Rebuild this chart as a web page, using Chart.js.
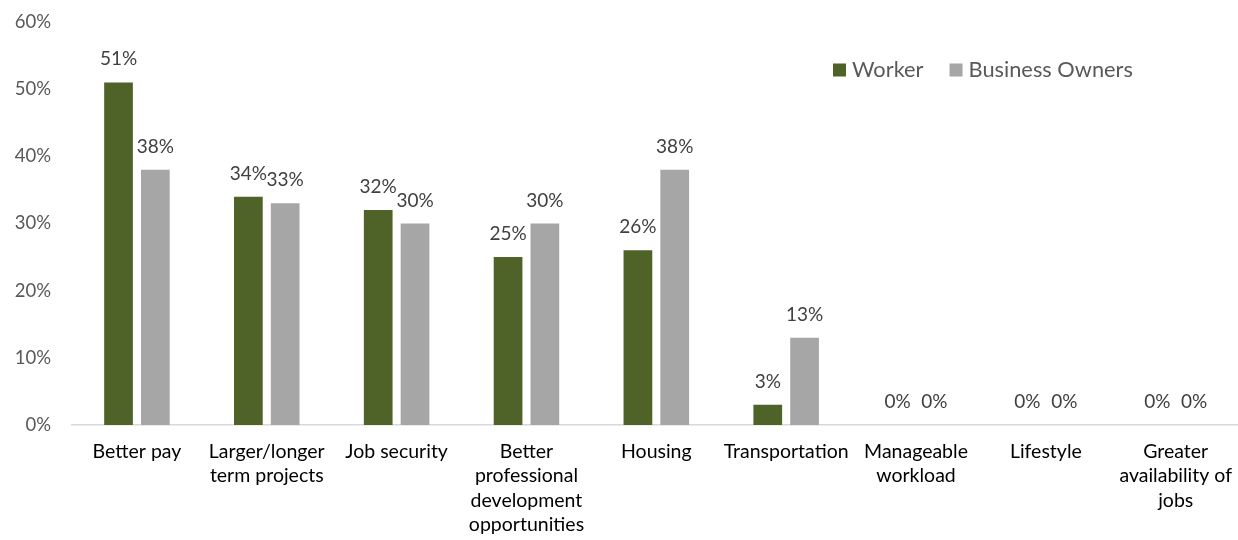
<!DOCTYPE html>
<html>
<head>
<meta charset="utf-8">
<script src="https://cdn.jsdelivr.net/npm/chart.js@4"></script>
<style>
  html, body { margin: 0; padding: 0; background: #fff; overflow: hidden; }
  #wrap { width: 1246px; height: 540px; }
</style>
</head>
<body>
<div id="wrap"><canvas id="c" width="1246" height="540"></canvas></div>
<script>
// Survey categories (multi-line labels for the x axis)
const categories = [
  'Better pay',
  ['Larger/longer', 'term projects'],
  'Job security',
  ['Better', 'professional', 'development', 'opportunities'],
  'Housing',
  'Transportation',
  ['Manageable', 'workload'],
  'Lifestyle',
  ['Greater', 'availability of', 'jobs']
];

// Share of respondents (%) per group
const workerValues   = [51, 34, 32, 25, 26, 3, 0, 0, 0];
const ownerValues    = [38, 33, 30, 30, 38, 13, 0, 0, 0];
const seriesNames    = ['Worker', 'Business Owners'];
const yTicks         = [0, 10, 20, 30, 40, 50, 60];

const FONT = 'Lato, "Open Sans", sans-serif';

// Percent labels above each bar
const valueLabels = {
  id: 'valueLabels',
  afterDatasetsDraw(chart) {
    const ctx = chart.ctx;
    ctx.save();
    ctx.font = '19px ' + FONT;
    ctx.fillStyle = '#404040';
    ctx.textAlign = 'center';
    ctx.textBaseline = 'alphabetic';
    chart.data.datasets.forEach((ds, i) => {
      chart.getDatasetMeta(i).data.forEach((el, j) => {
        ctx.fillText(ds.data[j] + '%', el.x, el.y - 17);
      });
    });
    ctx.restore();
  }
};

// Legend drawn inside the plot, upper right
const insideLegend = {
  id: 'insideLegend',
  afterDraw(chart) {
    const ctx = chart.ctx;
    ctx.save();
    ctx.font = '21.8px ' + FONT;
    ctx.textBaseline = 'middle';
    ctx.textAlign = 'left';
    let x = chart.chartArea.left + 761;
    const y = chart.chartArea.top + 48;
    chart.data.datasets.forEach(ds => {
      ctx.fillStyle = ds.backgroundColor;
      ctx.fillRect(x, y - 6.5, 13, 13);
      ctx.fillStyle = '#595959';
      ctx.fillText(ds.label, x + 19, y);
      x += 19 + ctx.measureText(ds.label).width + 26;
    });
    ctx.restore();
  }
};

new Chart(document.getElementById('c'), {
  type: 'bar',
  data: {
    labels: categories,
    datasets: [
      { label: seriesNames[0], data: workerValues, backgroundColor: '#4F6228',
        categoryPercentage: 0.567, barPercentage: 0.78 },
      { label: seriesNames[1], data: ownerValues, backgroundColor: '#A6A6A6',
        categoryPercentage: 0.567, barPercentage: 0.78 }
    ]
  },
  options: {
    responsive: false,
    animation: false,
    devicePixelRatio: 1,
    layout: { padding: { top: 22, left: 0, right: 0, bottom: 0 } },
    plugins: {
      legend: { display: false },
      tooltip: { enabled: false }
    },
    scales: {
      x: {
        grid: { display: false, drawTicks: false },
        border: { display: true, color: '#D9D9D9', width: 1.5 },
        ticks: {
          color: '#000000',
          font: { family: FONT, size: 19.5, lineHeight: 1.26 },
          padding: 14,
          maxRotation: 0,
          minRotation: 0,
          autoSkip: false
        },
        afterFit(scale) { scale.height = 115; }
      },
      y: {
        min: 0,
        max: 60,
        afterBuildTicks(scale) { scale.ticks = yTicks.map(v => ({ value: v })); },
        // grid hidden; tickLength only sets the gap between labels and plot
        grid: { display: false, drawTicks: true, tickLength: 21 },
        border: { display: false },
        ticks: {
          color: '#595959',
          font: { family: FONT, size: 18.5 },
          padding: 0,
          callback: v => v + '%'
        },
        afterFit(scale) { scale.width = 72; }
      }
    }
  },
  plugins: [valueLabels, insideLegend]
});
</script>
</body>
</html>
